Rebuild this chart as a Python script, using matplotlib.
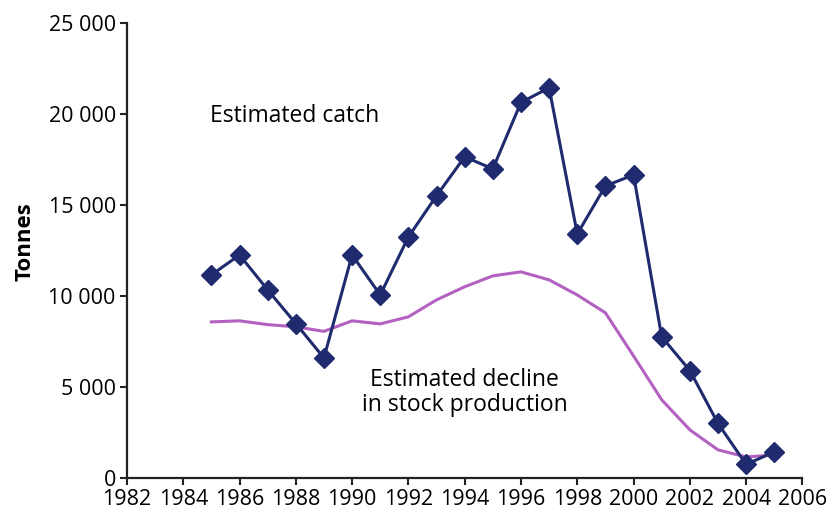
import matplotlib.pyplot as plt
from matplotlib.ticker import FuncFormatter

plt.rcParams['font.family'] = ['Open Sans', 'DejaVu Sans']

# anni e dati
years = [1985, 1986, 1987, 1988, 1989, 1990, 1991, 1992, 1993, 1994, 1995,
         1996, 1997, 1998, 1999, 2000, 2001, 2002, 2003, 2004, 2005]
catch = [11150, 12250, 10330, 8480, 6590, 12250, 10050, 13240, 15500, 17640, 16980,
         20630, 21430, 13400, 16040, 16650, 7750, 5900, 2990, 740, 1430]
stock = [8570, 8630, 8420, 8300, 8050, 8630, 8460, 8850, 9780, 10500, 11100,
         11320, 10880, 10050, 9070, 6700, 4290, 2640, 1540, 1150, 1260]

xticks = list(range(1982, 2007, 2))
yticks = [0, 5000, 10000, 15000, 20000, 25000]

catch_color = '#1f2b6e'
stock_color = '#b361c0'

fig = plt.figure(figsize=(8.35, 5.2), dpi=100)
ax = fig.add_axes([0.152, 0.081, 0.809, 0.875])

ax.plot(years, stock, color=stock_color, linewidth=2.2, zorder=2)
ax.plot(years, catch, color=catch_color, linewidth=2.2, marker='D',
        markersize=10, zorder=3)

ax.set_xlim(1982, 2006)
ax.set_ylim(0, 25000)
ax.set_xticks(xticks)
ax.set_yticks(yticks)
ax.yaxis.set_major_formatter(FuncFormatter(lambda v, p: '{:,.0f}'.format(v).replace(',', ' ')))

for s in ['top', 'right']:
    ax.spines[s].set_visible(False)
for s in ['left', 'bottom']:
    ax.spines[s].set_linewidth(1.6)
    ax.spines[s].set_color('#222222')

ax.tick_params(axis='both', direction='out', length=5, width=1.5, labelsize=15.5,
               colors='#222222', labelcolor='black')
ax.tick_params(axis='x', pad=3)
ax.tick_params(axis='y', pad=3)

ax.set_ylabel('Tonnes', fontsize=16, fontweight='bold', labelpad=10)
ax.yaxis.set_label_coords(-0.135, 0.52)

ax.text(1987.95, 19900, 'Estimated catch', fontsize=16.5, ha='center', va='center')
ax.text(1994.0, 4700, 'Estimated decline\nin stock production', fontsize=16.5,
        ha='center', va='center', linespacing=1.05)

plt.savefig('out.png', dpi=100)
